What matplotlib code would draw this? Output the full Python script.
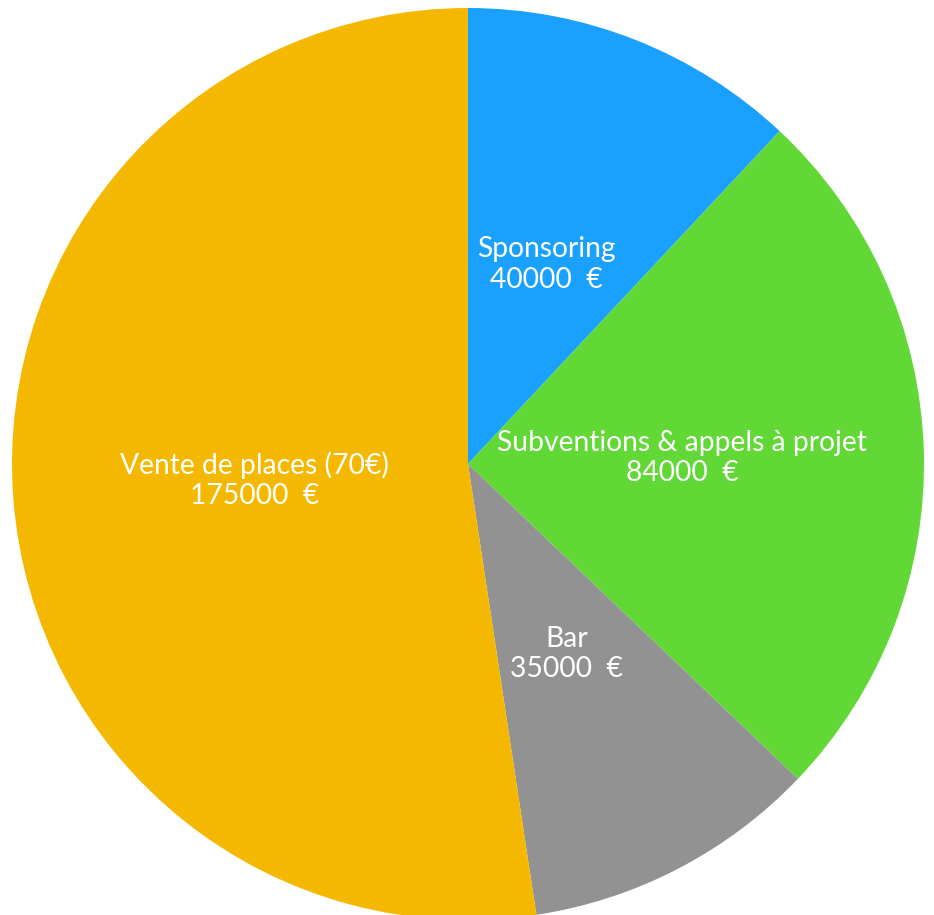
import matplotlib
matplotlib.use('Agg')
import matplotlib.pyplot as plt

categories = ["Sponsoring", "Subventions & appels à projet", "Bar", "Vente de places (70€)"]
values = [40000, 84000, 35000, 175000]
colors = ["#1AA1FF", "#61D836", "#929292", "#F5B800"]

labels = [f"{c}\n{v}  €" for c, v in zip(categories, values)]

fig = plt.figure(figsize=(9.34, 9.15), dpi=100)
# pie centre ~ (468, 464) px, radius ~ 456 px
r = 456
ax = fig.add_axes([(468 - r) / 934, (915 - 464 - r) / 915, 2 * r / 934, 2 * r / 915])

wedges, texts = ax.pie(values, colors=colors, startangle=90, counterclock=False,
                       labels=labels, labeldistance=0.47, radius=1.0,
                       wedgeprops=dict(linewidth=0),
                       textprops=dict(color="white", fontsize=20.3, family="Lato",
                                      ha="center", va="center", multialignment="center",
                                      linespacing=1.22))
ax.set_xlim(-1, 1)
ax.set_ylim(-1, 1)

fig.savefig("out.png", dpi=100)
